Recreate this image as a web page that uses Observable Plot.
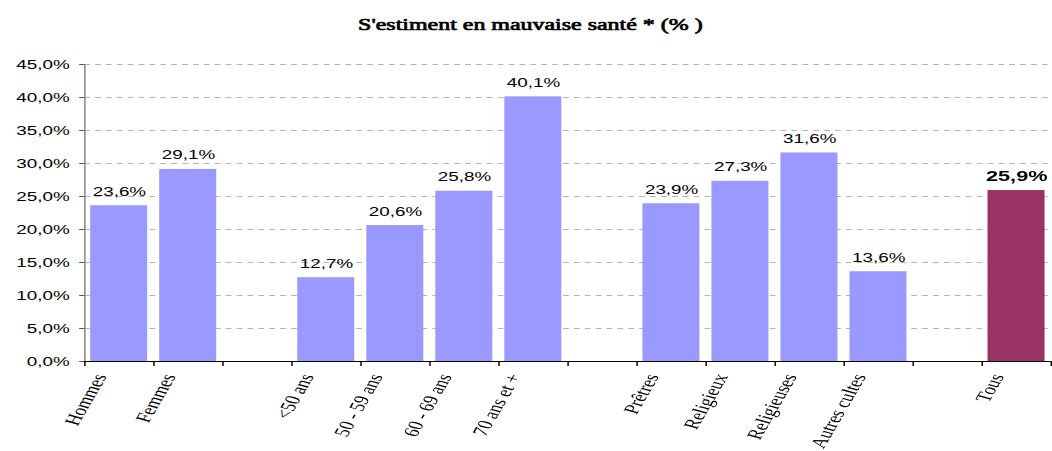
<!DOCTYPE html>
<html><head><meta charset="utf-8">
<script src="https://cdn.jsdelivr.net/npm/d3@7"></script>
<script src="https://cdn.jsdelivr.net/npm/@observablehq/plot@0.6"></script>
<style>
html,body{margin:0;padding:0;background:#fff;overflow:hidden}
#wrap{width:725px;transform-origin:0 0;}
</style></head><body>
<div id="wrap"><div id="chart"></div></div>
<script>
const title = "S'estiment en mauvaise santé * (% )";
// x slots (gaps separate the groups)
const slots = ["Hommes","Femmes","gap1","<50 ans","50 - 59 ans","60 - 69 ans","70 ans et +","gap2","Prêtres","Religieux","Religieuses","Autres cultes","gap3","Tous"];
const categories = ["Hommes","Femmes","<50 ans","50 - 59 ans","60 - 69 ans","70 ans et +","Prêtres","Religieux","Religieuses","Autres cultes","Tous"];
const values = [23.6,29.1,12.7,20.6,25.8,40.1,23.9,27.3,31.6,13.6,25.9];
const highlight = ["Tous"];
const yTicks = [0,5,10,15,20,25,30,35,40,45];

const W = 725, H = 451, mL = 58, mR = 1, mT = 64, mB = 90;
const S = 1052 / W;
const step = (W - mL - mR) / slots.length;
const fmt = v => v.toFixed(1).replace(".", ",") + "%";
const data = categories.map((c, i) => ({cat: c, value: values[i], hi: highlight.includes(c)}));
const normal = data.filter(d => !d.hi), hi = data.filter(d => d.hi);
const serif = "'Liberation Serif', 'Times New Roman', serif";

const chart = Plot.plot({
  width: W, height: H, marginLeft: mL, marginRight: mR, marginTop: mT, marginBottom: mB,
  style: {fontFamily: "'Liberation Sans', Arial, sans-serif", background: "#fff", overflow: "visible", color: "#000"},
  x: {domain: slots, paddingInner: 0.174, paddingOuter: 0.087, round: false, axis: null},
  y: {domain: [0, 45], axis: null},
  marks: [
    Plot.text([title], {frameAnchor: "top", text: d => d, dy: -46, dx: -26, fontSize: 16.5, fontFamily: serif,
      fill: "#000", stroke: "#000", strokeWidth: 0.7}),
    Plot.gridY(yTicks.filter(d => d > 0), {stroke: "#b4b4b4", strokeOpacity: 1, strokeDasharray: "4,3.5"}),
    Plot.barY(normal, {x: "cat", y: "value", fill: "#9999FF"}),
    Plot.barY(hi, {x: "cat", y: "value", fill: "#993366"}),
    Plot.text(normal, {x: "cat", y: "value", text: d => fmt(d.value), lineAnchor: "bottom", dy: -10, fontSize: 13, fill: "#000"}),
    Plot.text(hi, {x: "cat", y: "value", text: d => fmt(d.value), lineAnchor: "bottom", dy: -10, fontSize: 15, fontWeight: "bold", fill: "#000"}),
    Plot.axisY({ticks: yTicks, tickFormat: fmt, tickSize: 3.5, tickPadding: 7, fontSize: 13, stroke: "#555", label: null}),
    Plot.frame({anchor: "left", stroke: "#7f7f7f"}),
    Plot.ruleY([0], {stroke: "#000"}),
    Plot.axisX({ticks: slots, tickSize: 5, tickFormat: () => "", dx: -step / 2, stroke: "#000", label: null}),
    Plot.axisX({ticks: [slots[slots.length - 1]], tickSize: 5, tickFormat: () => "", dx: step / 2, stroke: "#000", label: null}),
    Plot.axisX({ticks: slots, tickSize: 0, tickPadding: 13, tickRotate: -68, tickFormat: d => d.startsWith("gap") ? "" : d,
      fontSize: 15, fontFamily: serif, dx: -13, label: null})
  ]
});
document.getElementById("chart").appendChild(chart);
document.getElementById("wrap").style.transform = `scaleX(${S})`;
</script></body></html>
